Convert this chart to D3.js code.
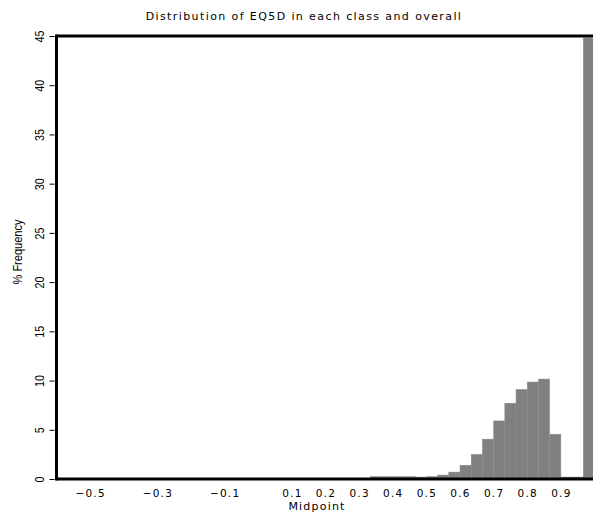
<!DOCTYPE html>
<html>
<head>
<meta charset="utf-8">
<script src="https://cdn.jsdelivr.net/npm/d3@7"></script>
<style>
  body { margin: 0; background: #fff; }
  svg { display: block; }
  text { fill: #000; }
</style>
</head>
<body>
<svg id="chart" width="593" height="515"></svg>
<script>
// ---- data ----
const binWidth = 1 / 30;
const midpoints = [0.35, 0.3833, 0.4167, 0.45, 0.4833, 0.5167, 0.55, 0.5833, 0.6167, 0.65,
                   0.6833, 0.7167, 0.75, 0.7833, 0.8167, 0.85, 0.8833, 0.9167, 0.95, 0.9833];
const pctFrequency = [0.25, 0.25, 0.25, 0.25, 0.2, 0.25, 0.4, 0.7, 1.4, 2.5,
                      4.05, 5.9, 7.7, 9.1, 9.85, 10.15, 4.55, 0.2, 0.2, 44.8];
const xTickValues = [-0.5, -0.3, -0.1, 0.1, 0.2, 0.3, 0.4, 0.5, 0.6, 0.7, 0.8, 0.9];
const yTickValues = [0, 5, 10, 15, 20, 25, 30, 35, 40, 45];
const titleText = "Distribution of EQ5D in each class and overall";
const xLabel = "Midpoint";
const yLabel = "% Frequency";

// ---- layout ----
const svg = d3.select("#chart");
const mLeft = 56.5, mRight = 594.5, mTop = 36, mBottom = 479;

const x = d3.scaleLinear().domain([-0.6, 1.0]).range([mLeft, mRight]);
const y = d3.scaleLinear().domain([0, 45]).range([mBottom, mTop]);

const data = midpoints.map((m, i) => ({ m, v: pctFrequency[i] }));

// bars
svg.append("g").selectAll("rect").data(data).join("rect")
  .attr("x", d => x(d.m - binWidth / 2))
  .attr("width", d => x(d.m + binWidth / 2) - x(d.m - binWidth / 2))
  .attr("y", d => y(d.v))
  .attr("height", d => y(0) - y(d.v))
  .attr("fill", "#808080")
  .attr("stroke", "#8c8c8c")
  .attr("stroke-width", 0.5);

// frame (top, left, bottom)
const frame = svg.append("g").attr("stroke", "#000").attr("stroke-width", 3).attr("fill", "none");
frame.append("line").attr("x1", mLeft).attr("x2", 600).attr("y1", mTop).attr("y2", mTop);
frame.append("line").attr("x1", mLeft).attr("x2", mLeft).attr("y1", mTop - 1.5).attr("y2", mBottom + 1.5);
frame.append("line").attr("x1", mLeft).attr("x2", 600).attr("y1", mBottom).attr("y2", mBottom);

// y axis ticks and labels
const yAxis = d3.axisLeft(y).tickValues(yTickValues).tickSize(5).tickPadding(0).tickFormat(d3.format("d"));
const gy = svg.append("g").attr("transform", `translate(${mLeft - 2},0)`).call(yAxis);
gy.select(".domain").remove();
gy.selectAll(".tick line").attr("stroke", "#000").attr("stroke-width", 1);
gy.selectAll(".tick text")
  .attr("x", null).attr("dy", null)
  .attr("text-anchor", "middle")
  .attr("dominant-baseline", "central")
  .attr("transform", "translate(-15,0) rotate(-90) scale(0.9,1)")
  .style("font-family", "'Liberation Sans', sans-serif")
  .style("font-size", "12px");

// x axis labels (no tick marks)
const xAxis = d3.axisBottom(x).tickValues(xTickValues).tickSize(0).tickPadding(0)
  .tickFormat(d => d3.format(".1f")(d).replace("-", "\u2212"));
const gx = svg.append("g").attr("transform", `translate(0,${mBottom})`).call(xAxis);
gx.select(".domain").remove();
gx.selectAll(".tick text")
  .attr("y", 10.5)
  .attr("dy", "0.71em")
  .style("font-family", "'DejaVu Sans', sans-serif")
  .style("font-size", "10.5px")
  .style("letter-spacing", "1.2px");

// title
svg.append("text")
  .attr("x", 304).attr("y", 20)
  .attr("text-anchor", "middle")
  .style("font-family", "'DejaVu Sans', sans-serif")
  .style("font-size", "11px")
  .style("letter-spacing", "1.4px")
  .text(titleText);

// x label
svg.append("text")
  .attr("x", 317).attr("y", 510)
  .attr("text-anchor", "middle")
  .style("font-family", "'DejaVu Sans', sans-serif")
  .style("font-size", "11px")
  .style("letter-spacing", "1.2px")
  .text(xLabel);

// y label
svg.append("text")
  .attr("transform", "translate(18,252) rotate(-90) scale(0.85,1)")
  .attr("text-anchor", "middle")
  .attr("dominant-baseline", "central")
  .style("font-family", "'Liberation Sans', sans-serif")
  .style("font-size", "13px")
  .text(yLabel);
</script>
</body>
</html>
